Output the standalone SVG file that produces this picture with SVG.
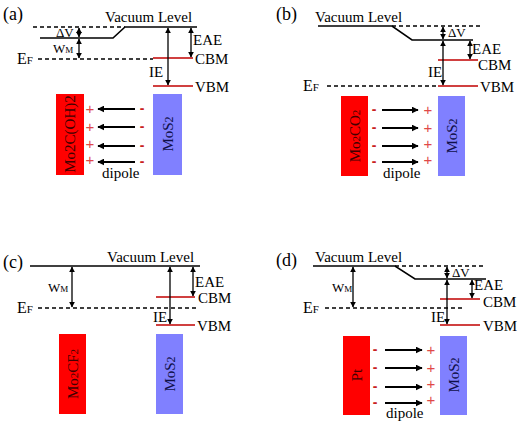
<svg xmlns="http://www.w3.org/2000/svg" width="520" height="423" viewBox="0 0 520 423" font-family="'Liberation Serif','Times New Roman',serif">
<defs>
<marker id="ah" viewBox="0 0 10 10" refX="9" refY="5" markerWidth="6" markerHeight="6" markerUnits="userSpaceOnUse" orient="auto-start-reverse"><path d="M0,0 L10,5 L0,10 z" fill="#000"/></marker>
<marker id="ahb" viewBox="0 0 10 10" refX="9" refY="5" markerWidth="7" markerHeight="7" markerUnits="userSpaceOnUse" orient="auto-start-reverse"><path d="M0,0 L10,5 L0,10 z" fill="#000"/></marker>
</defs>
<style>
text{font-family:"Liberation Serif","Times New Roman",serif;fill:#000}
.lbl{font-size:15px}
.pan{font-size:18px}
.sm{font-size:13px}
.lv{stroke:#000;stroke-width:1.6;fill:none}
.dash{stroke:#000;stroke-width:1.3;stroke-dasharray:4 3;fill:none}
.band{stroke:#c00000;stroke-width:1.6}
.va{stroke:#000;stroke-width:1.3;marker-start:url(#ah);marker-end:url(#ah)}
.dp{stroke:#000;stroke-width:2;marker-end:url(#ahb)}
.metal{fill:#ff0000}
.mos{fill:#8080ff}
.mt{font-size:15px;fill:#400000}
.st{font-size:15px;fill:#10104a}
.plus{font-family:"Liberation Sans",Arial,sans-serif;font-size:15px;fill:#e04848;text-anchor:middle}
.minus{font-family:"Liberation Sans",Arial,sans-serif;font-size:14px;font-weight:bold;fill:#c82020;text-anchor:middle}
</style>

<!-- Panel (a) -->
<g id="panel-a">
<text class="pan" x="3" y="20">(a)</text>
<g id="a-levels">
<line class="dash" x1="33" y1="27" x2="125" y2="27"/>
<polyline class="lv" points="40,38 113,38 125,27 197,27"/>
<line class="dash" x1="38" y1="59" x2="153" y2="59"/>
<line class="band" x1="153" y1="58" x2="193" y2="58"/>
<line class="band" x1="153" y1="86" x2="193" y2="86"/>
<text class="lbl" x="105" y="22">Vacuum Level</text>
<text class="sm" x="56" y="37">ΔV</text>
<text x="53" y="53" font-size="13">W<tspan font-size="9">M</tspan></text>
<text x="17" y="64" font-size="16">E<tspan font-size="11">F</tspan></text>
<text class="lbl" x="193" y="45">EAE</text>
<text class="lbl" x="195" y="64">CBM</text>
<text class="lbl" x="149" y="77">IE</text>
<text class="lbl" x="195" y="92">VBM</text>
</g>
<g id="a-metal"><rect class="metal" x="56" y="94" width="28" height="81"/><text class="mt" transform="translate(75,134) rotate(-90)" text-anchor="middle">Mo2C(OH)2</text></g>
<g id="a-mos2"><rect class="mos" x="153" y="94" width="29" height="81"/><text class="st" transform="translate(173,134) rotate(-90)" text-anchor="middle">MoS<tspan font-size="12">2</tspan></text></g>
<g id="a-charges">
<text class="plus" x="90" y="114">+</text><text class="plus" x="90" y="132">+</text><text class="plus" x="90" y="149">+</text><text class="plus" x="90" y="165">+</text>
<text class="minus" x="142" y="113">-</text><text class="minus" x="142" y="131">-</text><text class="minus" x="142" y="150">-</text><text class="minus" x="142" y="166">-</text>
<text class="lbl" x="102" y="178">dipole</text>
</g>
</g>

<!-- Panel (b) -->
<g id="panel-b">
<text class="pan" x="276" y="20">(b)</text>
<g id="b-levels">
<polyline class="lv" points="318,26 392,26 412,40 473,40"/>
<line class="dash" x1="392" y1="26" x2="482" y2="26"/>
<line class="dash" x1="327" y1="86" x2="438" y2="86"/>
<line class="band" x1="438" y1="60" x2="478" y2="60"/>
<line class="band" x1="438" y1="86" x2="478" y2="86"/>
<text class="lbl" x="315" y="22">Vacuum Level</text>
<text class="sm" x="448" y="37">ΔV</text>
<text x="303" y="91" font-size="16">E<tspan font-size="11">F</tspan></text>
<text class="lbl" x="472" y="54">EAE</text>
<text class="lbl" x="478" y="70">CBM</text>
<text class="lbl" x="428" y="77">IE</text>
<text class="lbl" x="480" y="92">VBM</text>
</g>
<g id="b-metal"><rect class="metal" x="341" y="96" width="27" height="80"/><text class="mt" transform="translate(360,136) rotate(-90)" text-anchor="middle">Mo<tspan font-size="11">2</tspan>CO<tspan font-size="11">2</tspan></text></g>
<g id="b-mos2"><rect class="mos" x="438" y="96" width="27" height="80"/><text class="st" transform="translate(457,136) rotate(-90)" text-anchor="middle">MoS<tspan font-size="12">2</tspan></text></g>
<g id="b-charges">
<text class="minus" x="374" y="114">-</text><text class="minus" x="374" y="132">-</text><text class="minus" x="374" y="150">-</text><text class="minus" x="374" y="166">-</text>
<text class="plus" x="428" y="115">+</text><text class="plus" x="428" y="133">+</text><text class="plus" x="428" y="149">+</text><text class="plus" x="428" y="165">+</text>
<text class="lbl" x="383" y="178">dipole</text>
</g>
</g>

<!-- Panel (c) -->
<g id="panel-c">
<text class="pan" x="3" y="268">(c)</text>
<g id="c-levels">
<line class="lv" x1="30" y1="266" x2="200" y2="266"/>
<line class="dash" x1="38" y1="308" x2="197" y2="308"/>
<line class="band" x1="156" y1="297" x2="195" y2="297"/>
<line class="band" x1="156" y1="325" x2="195" y2="325"/>
<text class="lbl" x="107" y="262">Vacuum Level</text>
<text x="48" y="292" font-size="13">W<tspan font-size="9">M</tspan></text>
<text x="17" y="313" font-size="16">E<tspan font-size="11">F</tspan></text>
<text class="lbl" x="195" y="287">EAE</text>
<text class="lbl" x="198" y="303">CBM</text>
<text class="lbl" x="153" y="322">IE</text>
<text class="lbl" x="197" y="331">VBM</text>
</g>
<g id="c-metal"><rect class="metal" x="59" y="334" width="27" height="80"/><text class="mt" transform="translate(78,374) rotate(-90)" text-anchor="middle">Mo<tspan font-size="11">2</tspan>CF<tspan font-size="11">2</tspan></text></g>
<g id="c-mos2"><rect class="mos" x="156" y="334" width="27" height="80"/><text class="st" transform="translate(175,374) rotate(-90)" text-anchor="middle">MoS<tspan font-size="12">2</tspan></text></g>
</g>

<!-- Panel (d) -->
<g id="panel-d">
<text class="pan" x="276" y="266">(d)</text>
<g id="d-levels">
<polyline class="lv" points="313,266 395,266 415,279 486,279"/>
<line class="dash" x1="395" y1="266" x2="486" y2="266"/>
<line class="dash" x1="325" y1="308" x2="465" y2="308"/>
<line class="band" x1="440" y1="299" x2="480" y2="299"/>
<line class="band" x1="440" y1="325" x2="480" y2="325"/>
<text class="lbl" x="315" y="262">Vacuum Level</text>
<text class="sm" x="452" y="277">ΔV</text>
<text x="332" y="292" font-size="13">W<tspan font-size="9">M</tspan></text>
<text x="303" y="313" font-size="16">E<tspan font-size="11">F</tspan></text>
<text class="lbl" x="474" y="290">EAE</text>
<text class="lbl" x="483" y="307">CBM</text>
<text class="lbl" x="431" y="322">IE</text>
<text class="lbl" x="483" y="331">VBM</text>
</g>
<g id="d-metal"><rect class="metal" x="343" y="336" width="27" height="79"/><text class="mt" transform="translate(362,375) rotate(-90)" text-anchor="middle">Pt</text></g>
<g id="d-mos2"><rect class="mos" x="440" y="336" width="27" height="79"/><text class="st" transform="translate(459,375) rotate(-90)" text-anchor="middle">MoS<tspan font-size="12">2</tspan></text></g>
<g id="d-charges">
<text class="minus" x="375" y="354">-</text><text class="minus" x="375" y="372">-</text><text class="minus" x="375" y="391">-</text><text class="minus" x="375" y="407">-</text>
<text class="plus" x="431" y="355">+</text><text class="plus" x="431" y="373">+</text><text class="plus" x="431" y="389">+</text><text class="plus" x="431" y="405">+</text>
<text class="lbl" x="386" y="418">dipole</text>
</g>
</g>

<g id="connectors">
<!-- (a) -->
<line class="va" x1="79" y1="28" x2="79" y2="37"/>
<line class="va" x1="79" y1="39" x2="79" y2="58"/>
<line class="va" x1="168" y1="28" x2="168" y2="85"/>
<line class="va" x1="191" y1="28" x2="191" y2="57"/>
<line class="dp" x1="135" y1="109" x2="98" y2="109"/>
<line class="dp" x1="135" y1="127" x2="98" y2="127"/>
<line class="dp" x1="135" y1="146" x2="98" y2="146"/>
<line class="dp" x1="135" y1="162" x2="98" y2="162"/>
<!-- (b) -->
<line class="va" x1="443" y1="27" x2="443" y2="39"/>
<line class="va" x1="443" y1="41" x2="443" y2="85"/>
<line class="va" x1="470" y1="41" x2="470" y2="59"/>
<line class="dp" x1="382" y1="110" x2="418" y2="110"/>
<line class="dp" x1="382" y1="128" x2="418" y2="128"/>
<line class="dp" x1="382" y1="146" x2="418" y2="146"/>
<line class="dp" x1="382" y1="162" x2="418" y2="162"/>
<!-- (c) -->
<line class="va" x1="72" y1="267" x2="72" y2="307"/>
<line class="va" x1="170" y1="267" x2="170" y2="324"/>
<line class="va" x1="193" y1="267" x2="193" y2="296"/>
<!-- (d) -->
<line class="va" x1="353" y1="267" x2="353" y2="307"/>
<line class="va" x1="447" y1="267" x2="447" y2="278"/>
<line class="va" x1="447" y1="280" x2="447" y2="324"/>
<line class="va" x1="472" y1="280" x2="472" y2="298"/>
<line class="dp" x1="385" y1="350" x2="422" y2="350"/>
<line class="dp" x1="385" y1="368" x2="422" y2="368"/>
<line class="dp" x1="385" y1="387" x2="422" y2="387"/>
<line class="dp" x1="385" y1="403" x2="422" y2="403"/>
</g>
</svg>
